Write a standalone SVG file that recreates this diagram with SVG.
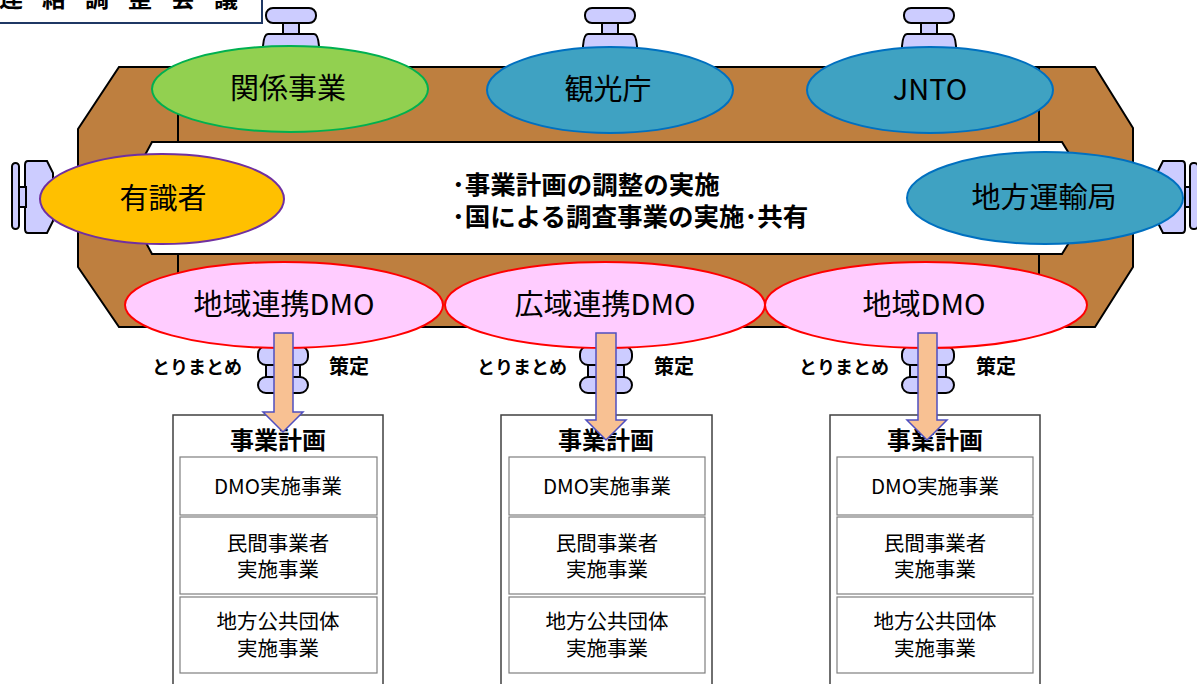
<svg xmlns="http://www.w3.org/2000/svg" width="1197" height="684" viewBox="0 0 1197 684">
  <defs>
    <style>
      .frame { fill: #BE7F3F; stroke: #000; stroke-width: 2; stroke-linejoin: miter; }
      .valve { fill: #CCCCFF; stroke: #000; stroke-width: 2; }
      .lbl { font-family: "Noto Sans CJK JP", "Noto Sans", sans-serif; font-size: 29px; fill: #000; text-anchor: middle; }
      .bold { font-family: "Noto Sans CJK JP", "Noto Sans", sans-serif; font-weight: bold; fill: #000; }
      .small { font-family: "Noto Sans CJK JP", "Noto Sans", sans-serif; font-size: 20.5px; fill: #000; text-anchor: middle; }
      .green { fill: #92D050; stroke: #00B050; stroke-width: 2; }
      .blue { fill: #3FA2C2; stroke: #0070C0; stroke-width: 2; }
      .orange { fill: #FFC000; stroke: #7030A0; stroke-width: 2; }
      .pink { fill: #FFCCFF; stroke: #FF0000; stroke-width: 2; }
      .arrow { fill: #F8C193; stroke: #4F4FC0; stroke-width: 1.5; stroke-linejoin: miter; }
      .box { fill: #fff; stroke: #404040; stroke-width: 1.5; }
      .cell { fill: #fff; stroke: #7F7F7F; stroke-width: 1.2; }
    </style>
  </defs>

  <!-- meeting title tab -->
  <g id="title">
    <rect x="-2" y="-10" width="264" height="33" fill="#fff" stroke="#1F3864" stroke-width="2"/>
    <text x="-1" y="7" class="bold" font-size="24" letter-spacing="19">連絡調整会議</text>
  </g>

  <!-- pipe frame -->
  <g id="frame">
    <path class="frame" fill-rule="evenodd" d="M119,67 L1095,67 L1133,128 L1133,267 L1095,327 L119,327 L78,267 L78,129 Z M152,142 L1062,142 L1070,155 L1070,241 L1062,254 L152,254 L145,241 L145,155 Z"/>
    <rect class="frame" x="178" y="67" width="861" height="75"/>
    <rect class="frame" x="178" y="254" width="861" height="73"/>
  </g>

  <!-- valves on the frame -->
  <g id="valves">
    <g id="valve-top-1">
      <path class="valve" d="M268,34 Q264,34 263,46 L263,64 L319,64 L319,46 Q318,34 314,34 Z"/>
      <rect class="valve" x="283" y="22" width="16" height="12"/>
      <rect class="valve" x="266" y="8" width="50" height="15" rx="7"/>
    </g>
    <g id="valve-top-2">
      <path class="valve" d="M588,34 Q584,34 583,46 L583,64 L637,64 L637,46 Q636,34 632,34 Z"/>
      <rect class="valve" x="602" y="22" width="16" height="12"/>
      <rect class="valve" x="585" y="8" width="50" height="15" rx="7"/>
    </g>
    <g id="valve-top-3">
      <path class="valve" d="M907,34 Q903,34 902,46 L902,64 L956,64 L956,46 Q955,34 951,34 Z"/>
      <rect class="valve" x="921" y="22" width="16" height="12"/>
      <rect class="valve" x="904" y="8" width="50" height="15" rx="7"/>
    </g>
    <g id="valve-left">
      <path class="valve" d="M28,161 L47,161 L53,173 L53,221 L47,233 L28,233 Q25,233 25,229 L25,165 Q25,161 28,161 Z"/>
      <rect class="valve" x="19" y="187" width="7" height="20"/>
      <rect class="valve" x="12" y="163" width="7" height="66" rx="3.5"/>
    </g>
    <g id="valve-right">
      <path class="valve" d="M1182,161 L1163,161 L1157,173 L1157,221 L1163,233 L1182,233 Q1185,233 1185,229 L1185,165 Q1185,161 1182,161 Z"/>
      <rect class="valve" x="1185" y="187" width="6" height="20"/>
      <rect class="valve" x="1190" y="163" width="8" height="66" rx="3.5"/>
    </g>
    <g id="valve-bottom-1">
      <rect class="valve" x="266" y="360" width="34" height="22"/>
      <rect class="valve" x="258" y="346" width="50" height="19" rx="8"/>
      <rect class="valve" x="258" y="377" width="50" height="16" rx="8"/>
    </g>
    <g id="valve-bottom-2">
      <rect class="valve" x="588" y="360" width="36" height="22"/>
      <rect class="valve" x="580" y="346" width="52" height="19" rx="8"/>
      <rect class="valve" x="580" y="377" width="52" height="16" rx="8"/>
    </g>
    <g id="valve-bottom-3">
      <rect class="valve" x="910" y="360" width="36" height="22"/>
      <rect class="valve" x="902" y="346" width="52" height="19" rx="8"/>
      <rect class="valve" x="902" y="377" width="52" height="16" rx="8"/>
    </g>
  </g>

  <!-- shared agenda -->
  <g id="agenda">
    <text class="bold" font-size="25.5"><tspan x="452" y="194">･事業計画の調整の実施</tspan><tspan x="452" y="226">･国による調査事業の実施･共有</tspan></text>
  </g>

  <!-- participants -->
  <g id="node-kankei">
    <ellipse class="green" cx="290" cy="89" rx="138" ry="43"/>
    <text x="288" y="99" class="lbl">関係事業</text>
  </g>
  <g id="node-kankocho">
    <ellipse class="blue" cx="610" cy="90" rx="123" ry="43"/>
    <text x="608" y="100" class="lbl">観光庁</text>
  </g>
  <g id="node-jnto">
    <ellipse class="blue" cx="930" cy="90" rx="123" ry="43"/>
    <text x="930" y="100" class="lbl">JNTO</text>
  </g>
  <g id="node-yushikisha">
    <ellipse class="orange" cx="162" cy="199" rx="122" ry="45"/>
    <text x="163" y="209" class="lbl">有識者</text>
  </g>
  <g id="node-chiho-unyu">
    <ellipse class="blue" cx="1045" cy="198" rx="138" ry="46"/>
    <text x="1044" y="208" class="lbl">地方運輸局</text>
  </g>
  <g id="node-dmo-renkei">
    <ellipse class="pink" cx="284" cy="305" rx="159" ry="43"/>
    <text x="284" y="315" class="lbl">地域連携DMO</text>
  </g>
  <g id="node-dmo-koiki">
    <ellipse class="pink" cx="605" cy="305" rx="160" ry="43"/>
    <text x="605" y="315" class="lbl">広域連携DMO</text>
  </g>
  <g id="node-dmo-chiiki">
    <ellipse class="pink" cx="926" cy="305" rx="161" ry="43"/>
    <text x="924" y="315" class="lbl">地域DMO</text>
  </g>

  <!-- business plans -->
  <g id="plan-1">
    <rect class="box" x="173" y="415" width="210" height="270"/>
    <text x="278" y="449" class="bold" font-size="24" text-anchor="middle">事業計画</text>
    <rect class="cell" x="180" y="457" width="197" height="58"/>
    <rect class="cell" x="180" y="517" width="197" height="77"/>
    <rect class="cell" x="180" y="597" width="197" height="76"/>
    <text x="278" y="494" class="small">DMO実施事業</text>
    <text class="small"><tspan x="278" y="551">民間事業者</tspan><tspan x="278" y="577">実施事業</tspan></text>
    <text class="small"><tspan x="278" y="629">地方公共団体</tspan><tspan x="278" y="656">実施事業</tspan></text>
  </g>
  <g id="plan-2">
    <rect class="box" x="501" y="415" width="211" height="270"/>
    <text x="606" y="449" class="bold" font-size="24" text-anchor="middle">事業計画</text>
    <rect class="cell" x="509" y="457" width="196" height="58"/>
    <rect class="cell" x="509" y="517" width="196" height="77"/>
    <rect class="cell" x="509" y="597" width="196" height="76"/>
    <text x="607" y="494" class="small">DMO実施事業</text>
    <text class="small"><tspan x="607" y="551">民間事業者</tspan><tspan x="607" y="577">実施事業</tspan></text>
    <text class="small"><tspan x="607" y="629">地方公共団体</tspan><tspan x="607" y="656">実施事業</tspan></text>
  </g>
  <g id="plan-3">
    <rect class="box" x="830" y="415" width="210" height="270"/>
    <text x="935" y="449" class="bold" font-size="24" text-anchor="middle">事業計画</text>
    <rect class="cell" x="837" y="457" width="196" height="58"/>
    <rect class="cell" x="837" y="517" width="196" height="77"/>
    <rect class="cell" x="837" y="597" width="196" height="76"/>
    <text x="935" y="494" class="small">DMO実施事業</text>
    <text class="small"><tspan x="935" y="551">民間事業者</tspan><tspan x="935" y="577">実施事業</tspan></text>
    <text class="small"><tspan x="935" y="629">地方公共団体</tspan><tspan x="935" y="656">実施事業</tspan></text>
  </g>

  <!-- connectors: DMO to business plan -->
  <g id="connectors">
    <path class="arrow" d="M274,333 L293,333 L293,412 L303,412 L283,432 L263,412 L274,412 Z"/>
    <path class="arrow" d="M596,333 L616,333 L616,420 L626,420 L606,440 L586,420 L596,420 Z"/>
    <path class="arrow" d="M918,333 L937,333 L937,420 L947,420 L927,440 L907,420 L918,420 Z"/>
    <text x="197" y="374" class="bold" font-size="18" text-anchor="middle">とりまとめ</text>
    <text x="349" y="374" class="bold" font-size="20" text-anchor="middle">策定</text>
    <text x="522" y="374" class="bold" font-size="18" text-anchor="middle">とりまとめ</text>
    <text x="674" y="374" class="bold" font-size="20" text-anchor="middle">策定</text>
    <text x="844" y="374" class="bold" font-size="18" text-anchor="middle">とりまとめ</text>
    <text x="996" y="374" class="bold" font-size="20" text-anchor="middle">策定</text>
  </g>
</svg>
